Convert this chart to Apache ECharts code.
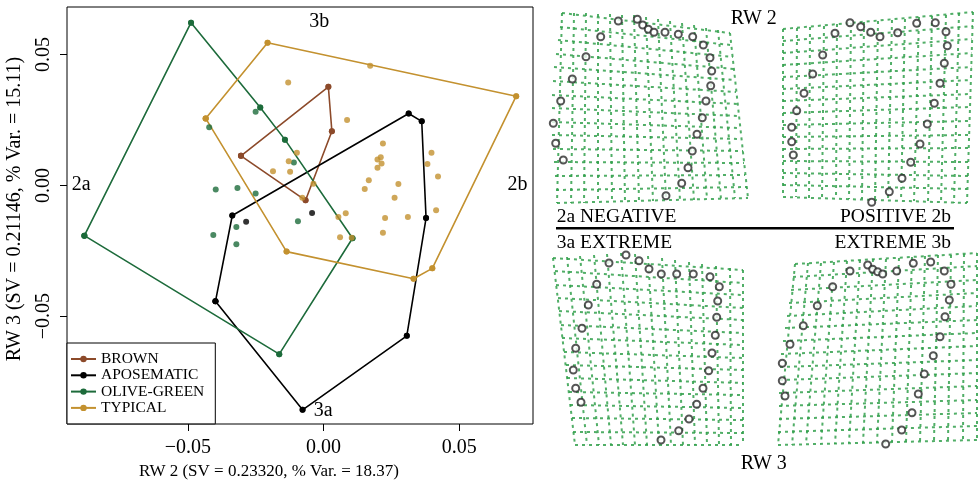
<!DOCTYPE html>
<html>
<head>
<meta charset="utf-8">
<script src="https://cdn.jsdelivr.net/npm/echarts@6/dist/echarts.min.js"></script>
<style>html,body{margin:0;padding:0;background:#fff}#c{width:979px;height:495px}</style>
</head>
<body>
<div id="c"></div>
<script>
// ---------- scatter data: [RW2, RW3] ----------
const brownPts = [[0.0018,0.0377],[0.0031,0.0207],[-0.0066,-0.0057],[-0.0304,0.0113]];
const aposematicPts = [[-0.0336,-0.0115],[-0.0285,-0.0139],[-0.0042,-0.0105],[-0.0398,-0.0443],[-0.0077,-0.0858],
  [0.0307,-0.0575],[0.0378,-0.0125],[0.0362,0.0245],[0.0314,0.0275]];
const olivePts = [[-0.0488,0.0622],[-0.0881,-0.0192],[-0.0163,-0.0645],[0.0107,-0.0202],[-0.0233,0.0298],[-0.0250,0.0282],
  [-0.0421,0.0222],[-0.0142,0.0175],[-0.0109,0.0088],[-0.0397,-0.0016],[-0.0317,-0.0010],[-0.0250,-0.0031],
  [-0.0094,-0.0137],[-0.0321,-0.0159],[-0.0406,-0.0190],[-0.0321,-0.0225]];
const typicalPts = [[-0.0206,0.0545],[0.0172,0.0457],[0.0710,0.0341],[-0.0130,0.0393],[-0.0434,0.0256],[0.0087,0.0250],
  [0.0219,0.0160],[0.0398,0.0125],[0.0383,0.0082],[0.0422,0.0034],[0.0211,0.0108],[0.0199,0.0099],[0.0214,0.0084],
  [0.0199,0.0068],[0.0167,0.0020],[0.0152,-0.0014],[0.0276,0.0005],[0.0262,-0.0047],[0.0415,-0.0095],[0.0311,-0.0121],
  [0.0227,-0.0125],[0.0082,-0.0106],[0.0055,-0.0121],[0.0219,-0.0181],[0.0061,-0.0198],[0.0104,-0.0200],
  [-0.0098,0.0125],[-0.0128,0.0092],[-0.0123,0.0052],[-0.0186,0.0054],[-0.0037,0.0006],[-0.0078,-0.0047],
  [-0.0136,-0.0253],[0.0332,-0.0357],[0.0401,-0.0317]];
const groupNames = ['BROWN','APOSEMATIC','OLIVE-GREEN','TYPICAL'];
const groupColors = ['#8c4a2a','#000000','#1d6b3b','#c3912f'];
const rw2Ticks = [-0.05, 0, 0.05];
const rw3Ticks = [-0.05, 0, 0.05];

// ---------- deformation grids (morph panel units) ----------
const p1Top = [[22,13],[34,13],[46,13],[58,14],[70,14],[82,15],[94,15],[106,17],[118,19],[130,21],[142,23],[154,25],[166,28],[178,30],[190,33]];
const p1Bottom = [[17,203],[31,203],[44,203],[58,202],[72,202],[85,202],[99,201],[113,201],[126,200],[140,200],[154,200],[167,199],[181,199],[195,198],[208,198]];
const p1Left = [[22,13],[20,27],[18,40],[16,54],[14,67],[13,81],[12,95],[12,108],[12,122],[12,135],[13,149],[14,162],[15,176],[16,190],[17,203]];
const p1Right = [[190,33],[191,45],[193,57],[194,69],[195,80],[196,92],[198,104],[199,116],[200,128],[201,139],[203,151],[204,163],[205,175],[207,187],[208,198]];

const p2Top = [[243,29],[257,28],[270,27],[284,26],[297,24],[311,23],[324,22],[338,21],[352,20],[365,19],[379,17],[392,16],[406,15],[419,13],[433,12]];
const p2Bottom = [[243,197],[256,197],[269,198],[282,198],[296,199],[309,199],[322,199],[335,200],[348,200],[361,201],[374,201],[388,202],[401,202],[414,203],[427,203]];
const p2Left = [[243,29],[243,41],[243,53],[243,65],[243,77],[243,89],[243,101],[243,113],[243,125],[243,137],[243,149],[243,161],[243,173],[243,185],[243,197]];
const p2Right = [[433,12],[433,26],[432,39],[432,53],[432,67],[431,80],[431,94],[430,107],[430,121],[429,135],[429,148],[428,162],[428,176],[427,189],[427,203]];

const p3Top = [[13,258],[27,257],[40,256],[54,255],[67,254],[81,253],[95,254],[108,256],[122,258],[135,260],[149,262],[162,264],[176,266],[190,268],[203,270]];
const p3Bottom = [[35,445],[47,445],[59,445],[71,445],[83,445],[95,445],[107,445],[119,445],[131,445],[143,445],[155,445],[167,445],[179,445],[191,445],[203,445]];
const p3Left = [[13,258],[15,271],[16,285],[18,298],[19,311],[21,325],[22,338],[24,352],[26,365],[27,378],[29,392],[30,405],[32,418],[33,432],[35,445]];
const p3Right = [[203,270],[203,283],[203,295],[203,308],[203,320],[203,333],[203,345],[203,358],[203,370],[203,383],[203,395],[203,408],[203,420],[203,433],[203,445]];

const p4Top = [[255,264],[268,263],[281,263],[294,262],[307,261],[320,260],[333,259],[346,259],[359,258],[372,257],[385,256],[398,255],[411,255],[424,254],[437,253]];
const p4Bottom = [[238,445],[252,445],[266,444],[281,444],[295,444],[309,443],[323,443],[337,443],[352,442],[366,442],[380,442],[394,441],[408,441],[423,440],[437,440]];
const p4Left = [[255,264],[253,277],[251,290],[249,303],[247,316],[245,328],[243,341],[241,354],[240,367],[240,380],[239,393],[239,406],[239,419],[238,432],[238,445]];
const p4Right = [[437,253],[437,266],[437,280],[437,293],[437,306],[437,320],[437,333],[437,346],[437,360],[437,373],[437,386],[437,400],[437,413],[437,426],[437,440]];

// landmarks
const p1Marks = [[23.3,160],[15.7,143.3],[13.3,123.3],[20.7,101],[32.3,79],[46,56.7],[60.7,36.7],[78.3,21],[97.3,19.3],[102.7,25],[108.3,29.3],[114,32.3],[125,32.3],[138.3,34.3],[152.7,36.7],[163.3,45],[170,57.7],[171.7,71],[170.7,85.7],[166,101],[162.3,117.7],[157,134.3],[152.3,151],[148,167.7],[141.7,183.3],[126,195.7]];
const p2Marks = [[253.3,155],[251.7,141.7],[251.7,127.3],[256.7,110.7],[264,93.3],[272.7,74],[282.7,55],[295,33.3],[310,22.7],[320.7,26.7],[330.7,32.3],[340,36.7],[357.7,32.7],[376.7,23.3],[395.3,22.7],[406,31.7],[407.3,45.7],[404.3,63.3],[400,83.3],[394.3,103.3],[387.3,124],[380,144],[370.7,162.3],[362,178.3],[349.3,191.7],[331.7,202.3]];
const p3Marks = [[41,402.3],[35.7,388.3],[33.3,370],[35.7,348.3],[42,328.3],[48.3,305],[56.7,284.3],[69,263],[86,255],[99,260.7],[109,269],[121.3,274],[136.7,274],[153.3,274],[170,276.7],[179.3,286.7],[177.7,301],[176.7,317.3],[175.3,335.3],[172,353],[168.7,370.7],[163,388.3],[156.7,404.3],[149,419],[138.7,430.7],[121,440]];
const p4Marks = [[245,396],[242.3,380.7],[242.3,363.3],[250,344.3],[263.3,325.7],[277.3,305.7],[292.7,286.7],[310,271],[327.7,265],[332.7,269.3],[337.7,271.7],[342.7,274],[356.7,271],[373.3,263.3],[390.7,262],[404.3,271],[411,284.3],[409.3,300],[405,316.7],[400,336.7],[393.3,355.7],[384.3,374],[378.3,394],[372,412.7],[361.7,430],[345.7,444]];

// ---------- helpers ----------
function convexHull(pts){
  const p = pts.slice().sort((a,b)=>a[0]-b[0]||a[1]-b[1]);
  const cross=(o,a,b)=>(a[0]-o[0])*(b[1]-o[1])-(a[1]-o[1])*(b[0]-o[0]);
  const lower=[];for(const q of p){while(lower.length>=2&&cross(lower[lower.length-2],lower[lower.length-1],q)<=0)lower.pop();lower.push(q);}
  const upper=[];for(let i=p.length-1;i>=0;i--){const q=p[i];while(upper.length>=2&&cross(upper[upper.length-2],upper[upper.length-1],q)<=0)upper.pop();upper.push(q);}
  upper.pop();lower.pop();
  const h=lower.concat(upper);h.push(h[0]);return h;
}
function gridSegments(top,bottom,left,right){
  const segs=[];
  for(let i=0;i<top.length;i++) segs.push({coords:[top[i],bottom[i]]});
  for(let j=0;j<left.length;j++) segs.push({coords:[left[j],right[j]]});
  return segs;
}
const fam = 'Liberation Serif';
const groups = [brownPts, aposematicPts, olivePts, typicalPts];
const fmt = v => (v<0?'\u2212':'') + Math.abs(v).toFixed(2);

const series = [];
groups.forEach((pts,i)=>{
  series.push({type:'line', name:groupNames[i], data:convexHull(pts), xAxisIndex:0, yAxisIndex:0,
    symbol:'circle', symbolSize:6, showSymbol:true, itemStyle:{color:groupColors[i]},
    lineStyle:{color:groupColors[i], width:1.6}, animation:false, silent:true, z:2});
});
groups.forEach((pts,i)=>{
  series.push({type:'scatter', name:groupNames[i], data:pts, xAxisIndex:0, yAxisIndex:0,
    symbol:'circle', symbolSize:6, itemStyle:{color:groupColors[i]}, animation:false, silent:true, z:3});
});
const panels = [[p1Top,p1Bottom,p1Left,p1Right],[p2Top,p2Bottom,p2Left,p2Right],[p3Top,p3Bottom,p3Left,p3Right],[p4Top,p4Bottom,p4Left,p4Right]];
panels.forEach(pn=>{
  series.push({type:'lines', coordinateSystem:'cartesian2d', xAxisIndex:1, yAxisIndex:1,
    data:gridSegments(pn[0],pn[1],pn[2],pn[3]), silent:true, animation:false,
    lineStyle:{color:'#33a04c', width:2, type:[3,4], opacity:0.85}, z:1});
});
[p1Marks,p2Marks,p3Marks,p4Marks].forEach(m=>{
  series.push({type:'scatter', data:m, xAxisIndex:1, yAxisIndex:1, symbol:'emptyCircle', symbolSize:7,
    itemStyle:{color:'#2a2a2a', borderWidth:2}, silent:true, animation:false, z:4});
});

const txt = (t,x,y,size,align,extra)=>Object.assign({type:'text', silent:true, z:10, x:x, y:y,
  style:{text:t, x:0, y:0, font:size+'px "'+fam+'"', fill:'#000', textAlign:align||'center', textVerticalAlign:'middle'}}, extra||{});

const chart = echarts.init(document.getElementById('c'), null, {renderer:'canvas'});
chart.setOption({
  backgroundColor:'#fff',
  animation:false,
  grid:[
    {left:67, top:7, width:466, height:417, show:true, borderColor:'#000', borderWidth:1, backgroundColor:'transparent'},
    {left:540, top:0, width:439, height:495, show:false}
  ],
  xAxis:[
    {type:'value', gridIndex:0, min:-0.0945, max:0.0772, axisLine:{show:false, onZero:false}, splitLine:{show:false},
     axisTick:{show:true, customValues:rw2Ticks, length:7, lineStyle:{color:'#000', width:1}},
     axisLabel:{customValues:rw2Ticks, formatter:fmt, margin:14, color:'#000', fontFamily:fam, fontSize:20}},
    {type:'value', gridIndex:1, min:0, max:439, show:false}
  ],
  yAxis:[
    {type:'value', gridIndex:0, min:-0.0912, max:0.0682, axisLine:{show:false, onZero:false}, splitLine:{show:false},
     axisTick:{show:true, customValues:rw3Ticks, length:7, lineStyle:{color:'#000', width:1}},
     axisLabel:{customValues:rw3Ticks, formatter:fmt, rotate:90, margin:13, color:'#000', fontFamily:fam, fontSize:20}},
    {type:'value', gridIndex:1, min:0, max:495, inverse:true, show:false}
  ],
  legend:{
    data:groupNames, orient:'vertical', left:67, top:343, itemWidth:25, itemHeight:8, itemGap:0.3,
    padding:[8,11,8,3], borderColor:'#000', borderWidth:1, borderRadius:0, backgroundColor:'#fff',
    textStyle:{fontFamily:fam, fontSize:15.5, color:'#000'}, selectedMode:false, z:20
  },
  graphic:[
    txt('RW 3 (SV = 0.21146, % Var. = 15.11)', 14.5, 209, 20, 'center', {rotation:Math.PI/2}),
    txt('RW 2 (SV = 0.23320, % Var. = 18.37)', 269, 472, 17, 'center'),
    txt('3b', 319.3, 22, 20), txt('2a', 81.2, 185, 20), txt('2b', 517.5, 185, 20), txt('3a', 323.3, 410.5, 20),
    txt('RW 2', 753.7, 19, 20),
    txt('2a NEGATIVE', 556.7, 216.5, 19.5, 'left'),
    txt('POSITIVE 2b', 951, 216.5, 19.5, 'right'),
    {type:'line', silent:true, z:10, shape:{x1:556, y1:228.3, x2:954, y2:228.3}, style:{stroke:'#000', lineWidth:2.6}},
    txt('3a EXTREME', 556.7, 243, 19.5, 'left'),
    txt('EXTREME 3b', 951, 243, 19.5, 'right'),
    txt('RW 3', 763.7, 464, 20)
  ],
  series:series
});
</script>
</body>
</html>
